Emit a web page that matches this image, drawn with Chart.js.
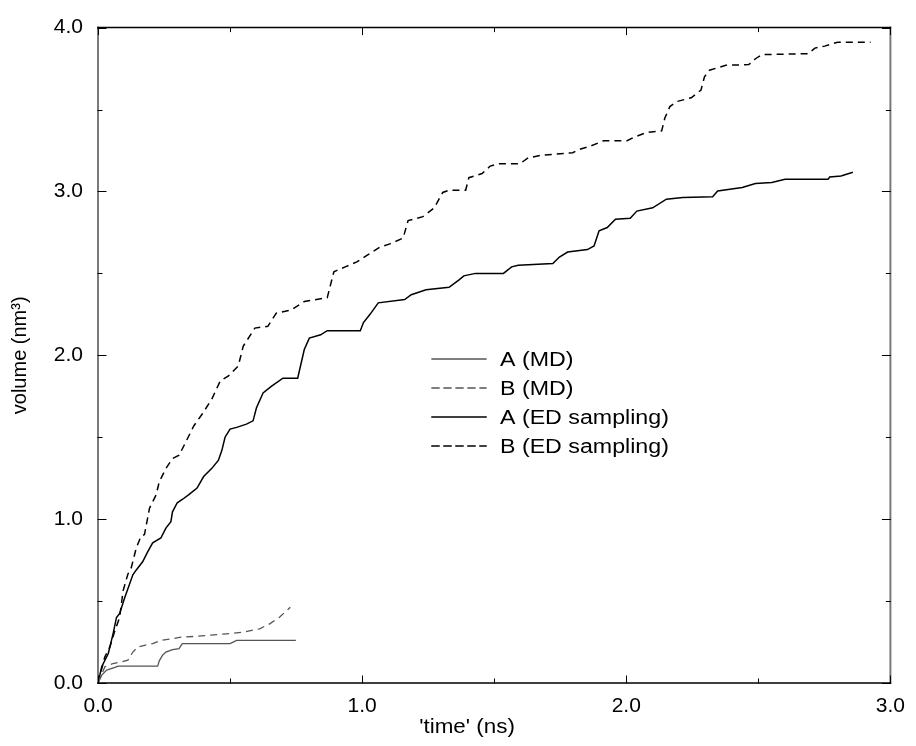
<!DOCTYPE html>
<html>
<head>
<meta charset="utf-8">
<script src="https://cdn.jsdelivr.net/npm/chart.js@4.4.1/dist/chart.umd.min.js"></script>
<style>
  html, body { margin: 0; padding: 0; background: #fff; }
  #wrap { width: 916px; height: 746px; }
</style>
</head>
<body>
<div id="wrap"><canvas id="volume-chart" width="916" height="746"></canvas></div>
<script>
// valores (tempo em ns, volume em nm^3)
const aMdTime = [0, 0.014, 0.033, 0.064, 0.076, 0.226, 0.232, 0.244, 0.257, 0.282, 0.307, 0.319, 0.50, 0.525, 0.749];
const aMdVolume = [0, 0.048, 0.079, 0.095, 0.103, 0.103, 0.135, 0.169, 0.189, 0.204, 0.21, 0.24, 0.24, 0.26, 0.26];

const bMdTime = [0, 0.026, 0.057, 0.089, 0.113, 0.132, 0.151, 0.176, 0.207, 0.238, 0.282, 0.313, 0.363, 0.487, 0.55, 0.612, 0.65, 0.687, 0.728];
const bMdVolume = [0, 0.099, 0.119, 0.129, 0.139, 0.189, 0.22, 0.23, 0.24, 0.26, 0.27, 0.28, 0.284, 0.30, 0.31, 0.331, 0.361, 0.401, 0.462];

const aEdTime = [0, 0.014, 0.039, 0.057, 0.070, 0.082, 0.101, 0.132, 0.145, 0.169, 0.188, 0.207, 0.238, 0.257, 0.276, 0.282, 0.30, 0.319, 0.344, 0.375,
  0.40, 0.431, 0.456, 0.469, 0.481, 0.50, 0.525, 0.562, 0.587, 0.60, 0.625, 0.656, 0.70, 0.756, 0.781, 0.80, 0.843, 0.868, 0.993, 1.005,
  1.03, 1.061, 1.161, 1.186, 1.242, 1.329, 1.367, 1.385, 1.429, 1.535, 1.566, 1.591, 1.722, 1.747, 1.778, 1.853, 1.878, 1.897, 1.928, 1.959,
  2.015, 2.04, 2.10, 2.152, 2.214, 2.327, 2.346, 2.439, 2.489, 2.551, 2.601, 2.764, 2.77, 2.813, 2.858];
const aEdVolume = [0, 0.099, 0.18, 0.30, 0.40, 0.425, 0.52, 0.66, 0.69, 0.74, 0.80, 0.855, 0.885, 0.945, 0.985, 1.045, 1.10, 1.12, 1.15, 1.19,
  1.26, 1.31, 1.36, 1.42, 1.50, 1.55, 1.56, 1.58, 1.60, 1.68, 1.77, 1.81, 1.86, 1.86, 2.035, 2.105, 2.125, 2.15, 2.15, 2.20,
  2.25, 2.32, 2.34, 2.37, 2.40, 2.415, 2.46, 2.485, 2.50, 2.50, 2.54, 2.55, 2.56, 2.60, 2.63, 2.645, 2.667, 2.76, 2.78, 2.83,
  2.836, 2.88, 2.90, 2.953, 2.963, 2.967, 3.003, 3.024, 3.048, 3.054, 3.074, 3.074, 3.088, 3.094, 3.117];

const bEdTime = [0, 0.026, 0.045, 0.064, 0.082, 0.095, 0.113, 0.126, 0.145, 0.163, 0.176, 0.195, 0.22, 0.232, 0.257, 0.282, 0.307, 0.332, 0.363, 0.394,
  0.431, 0.463, 0.494, 0.531, 0.55, 0.594, 0.643, 0.675, 0.731, 0.781, 0.868, 0.893, 0.936, 0.98, 1.018, 1.067, 1.105, 1.155, 1.174, 1.23,
  1.273, 1.305, 1.329, 1.392, 1.404, 1.454, 1.485, 1.516, 1.597, 1.629, 1.679, 1.797, 1.822, 1.866, 1.915, 2.003, 2.028, 2.077, 2.134, 2.146,
  2.165, 2.19, 2.246, 2.283, 2.296, 2.315, 2.377, 2.464, 2.489, 2.514, 2.689, 2.714, 2.751, 2.80, 2.925];
const bEdVolume = [0, 0.16, 0.22, 0.32, 0.40, 0.563, 0.664, 0.704, 0.825, 0.896, 0.906, 1.067, 1.148, 1.228, 1.309, 1.37, 1.39, 1.47, 1.57, 1.64,
  1.733, 1.844, 1.874, 1.935, 2.056, 2.166, 2.177, 2.257, 2.277, 2.328, 2.352, 2.51, 2.54, 2.57, 2.61, 2.66, 2.68, 2.715, 2.822, 2.846,
  2.90, 2.994, 3.008, 3.008, 3.084, 3.109, 3.155, 3.169, 3.169, 3.205, 3.221, 3.236, 3.256, 3.278, 3.31, 3.31, 3.33, 3.36, 3.37, 3.448,
  3.518, 3.548, 3.572, 3.619, 3.70, 3.74, 3.77, 3.774, 3.81, 3.835, 3.841, 3.875, 3.887, 3.911, 3.911];

const seriesLabels = ['A (MD)', 'B (MD)', 'A (ED sampling)', 'B (ED sampling)'];
const xTickValues = [0, 1, 2, 3];
const yTickValues = [0, 1, 2, 3, 4];

const FONT = 'Liberation Sans, Arial, Helvetica, sans-serif';

function toPoints(times, volumes) {
    return times.map((t, i) => ({ x: t, y: volumes[i] }));
}

// texto um pouco esticado na horizontal, como no original
function wideText(ctx, text, x, y, stretch) {
    ctx.save();
    ctx.translate(x, y);
    ctx.scale(stretch, 1);
    ctx.fillText(text, 0, 0);
    ctx.restore();
}

// ticks para dentro nos quatro lados, moldura e legenda dentro do gráfico
const framePlugin = {
    id: 'frame',
    afterDatasetsDraw(chart) {
        const ctx = chart.ctx;
        const a = chart.chartArea;
        const xs = chart.scales.x, ys = chart.scales.y;
        ctx.save();
        // moldura
        ctx.lineCap = 'square';
        ctx.strokeStyle = '#7a7a7a';
        ctx.lineWidth = 2;
        ctx.beginPath();
        ctx.moveTo(a.left, a.top); ctx.lineTo(a.left, a.bottom);
        ctx.moveTo(a.right, a.top); ctx.lineTo(a.right, a.bottom);
        ctx.stroke();
        ctx.strokeStyle = '#000';
        ctx.lineWidth = 1.5;
        ctx.beginPath();
        ctx.moveTo(a.left, a.top); ctx.lineTo(a.right, a.top);
        ctx.moveTo(a.left, a.bottom); ctx.lineTo(a.right, a.bottom);
        ctx.stroke();

        ctx.lineWidth = 1;
        ctx.strokeStyle = '#000';
        ctx.beginPath();
        for (let v = 0; v <= 3.0001; v += 0.5) {
            const px = Math.round(xs.getPixelForValue(v)) + 0.5;
            const len = Math.abs(v - Math.round(v)) < 1e-6 ? 7 : 4;
            ctx.moveTo(px, a.bottom); ctx.lineTo(px, a.bottom - len);
            ctx.moveTo(px, a.top); ctx.lineTo(px, a.top + len);
        }
        for (let v = 0; v <= 4.0001; v += 0.5) {
            const py = Math.round(ys.getPixelForValue(v)) + 0.5;
            const len = Math.abs(v - Math.round(v)) < 1e-6 ? 8 : 4;
            ctx.moveTo(a.left, py); ctx.lineTo(a.left + len, py);
            ctx.moveTo(a.right, py); ctx.lineTo(a.right - len, py);
        }
        ctx.stroke();

        // legenda
        ctx.font = '20px ' + FONT;
        ctx.textBaseline = 'middle';
        ctx.fillStyle = '#000';
        chart.data.datasets.forEach((ds, i) => {
            const y = 359 + i * 29;
            ctx.strokeStyle = ds.borderColor;
            ctx.lineWidth = ds.borderWidth;
            ctx.setLineDash(ds.borderDash || []);
            ctx.beginPath();
            ctx.moveTo(432, y); ctx.lineTo(486, y);
            ctx.stroke();
            ctx.setLineDash([]);
            wideText(ctx, ds.label, 500, y + 1, 1.16);
        });

        // título do eixo x
        ctx.textAlign = 'center';
        wideText(ctx, "'time' (ns)", 467, 727, 1.12);
        ctx.restore();
    }
};

const ctx = document.getElementById('volume-chart').getContext('2d');
new Chart(ctx, {
    type: 'line',
    data: {
        datasets: [
            { label: seriesLabels[0], data: toPoints(aMdTime, aMdVolume), borderColor: '#555', borderWidth: 1.3 },
            { label: seriesLabels[1], data: toPoints(bMdTime, bMdVolume), borderColor: '#555', borderWidth: 1.3, borderDash: [7, 5] },
            { label: seriesLabels[2], data: toPoints(aEdTime, aEdVolume), borderColor: '#000', borderWidth: 1.5 },
            { label: seriesLabels[3], data: toPoints(bEdTime, bEdVolume), borderColor: '#000', borderWidth: 1.5, borderDash: [7, 5] }
        ]
    },
    options: {
        responsive: false,
        animation: false,
        layout: { padding: { top: 22, right: 16, left: 0, bottom: 0 } },
        elements: { point: { radius: 0 }, line: { tension: 0, fill: false } },
        plugins: { legend: { display: false }, tooltip: { enabled: false } },
        scales: {
            x: {
                type: 'linear', min: 0, max: 3,
                afterBuildTicks(scale) { scale.ticks = xTickValues.map(v => ({ value: v })); },
                afterFit(scale) { scale.height = 63; },
                ticks: {
                    callback: v => v.toFixed(1),
                    color: '#000', padding: 11,
                    font: { family: FONT, size: 21 },
                    maxRotation: 0
                },
                grid: { display: false, drawTicks: false },
                border: { display: false }
            },
            y: {
                type: 'linear', min: 0, max: 4,
                afterBuildTicks(scale) { scale.ticks = yTickValues.map(v => ({ value: v })); },
                afterFit(scale) { scale.width = 98; },
                ticks: {
                    callback: v => v.toFixed(1),
                    color: '#000', padding: 15,
                    font: { family: FONT, size: 21 }
                },
                grid: { display: false, drawTicks: false },
                border: { display: false },
                title: {
                    display: true, text: 'volume (nm³)', color: '#000',
                    font: { family: FONT, size: 20 },
                    padding: { top: 8, bottom: 0 }
                }
            }
        }
    },
    plugins: [framePlugin]
});
</script>
</body>
</html>
